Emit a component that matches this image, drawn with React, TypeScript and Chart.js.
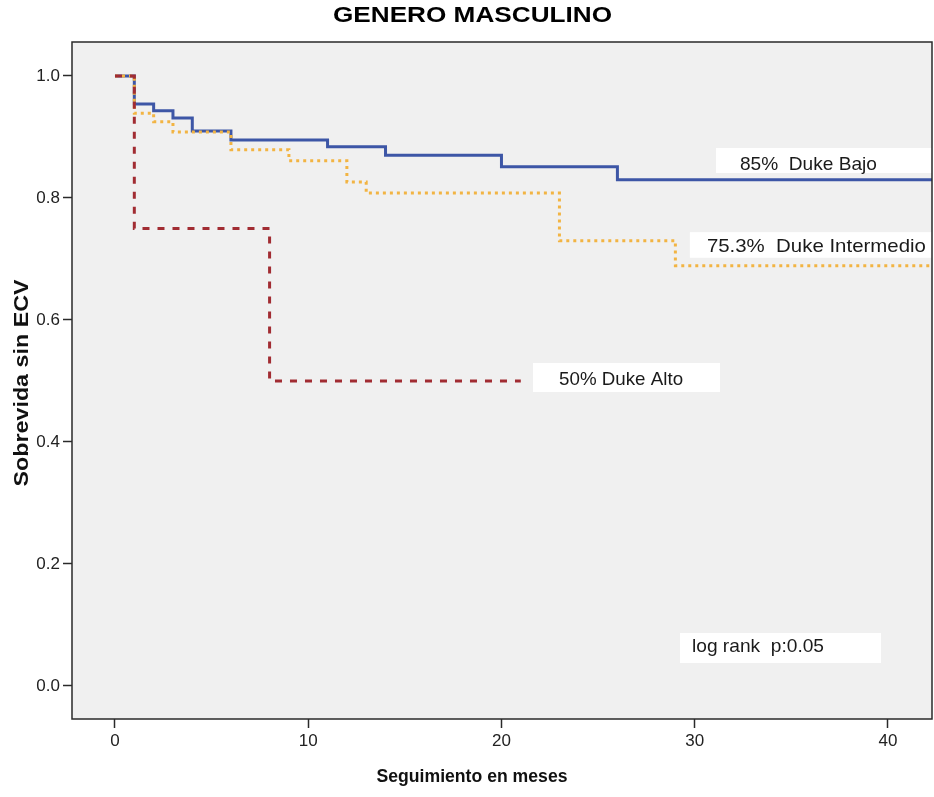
import React, { useEffect, useRef } from "react";
import { Chart, registerables } from "chart.js";

Chart.register(...registerables);

const TITLE = "GENERO MASCULINO";
const X_TITLE = "Seguimiento en meses";
const Y_TITLE = "Sobrevida sin ECV";

const X_TICKS = [0, 10, 20, 30, 40];
const Y_TICKS = [0, 0.2, 0.4, 0.6, 0.8, 1.0];

// Kaplan-Meier steps (month, survival)
const BAJO_MONTHS = [0, 1, 2, 3, 4, 6, 11, 14, 20, 26, 43];
const BAJO_SURV = [1, 0.954, 0.943, 0.931, 0.91, 0.895, 0.884, 0.87, 0.851, 0.83, 0.83];
const INTER_MONTHS = [0, 1, 2, 3, 6, 9, 12, 13, 23, 29, 43];
const INTER_SURV = [1, 0.939, 0.925, 0.908, 0.879, 0.861, 0.826, 0.808, 0.73, 0.689, 0.689];
const ALTO_MONTHS = [0, 1, 8, 21];
const ALTO_SURV = [1, 0.75, 0.5, 0.5];

const LABEL_TEXTS = ["85%  Duke Bajo", "75.3%  Duke Intermedio", "50% Duke Alto", "log rank  p:0.05"];

const toPoints = (xs: number[], ys: number[]) => xs.map((x, i) => ({ x, y: ys[i] }));

// annotation box layout (in data units): [x1, x2 (null = plot edge), yTop, yBottom, textX, textY, textWidthPx]
const BOX_LAYOUT: Array<[number, number | null, number, number, number, number, number]> = [
  [31.1, null, 0.882, 0.841, 32.34, 0.854, 137],
  [29.75, null, 0.744, 0.702, 30.63, 0.72, 219],
  [21.63, 31.31, 0.5295, 0.482, 22.98, 0.502, 124],
  [29.24, 39.64, 0.0869, 0.0377, 29.86, 0.064, 132],
];

function fitText(ctx: CanvasRenderingContext2D, text: string, x: number, y: number, width: number, align: "left" | "center") {
  const w = ctx.measureText(text).width;
  const sx = width / w;
  ctx.save();
  ctx.translate(x, y);
  ctx.scale(sx, 1);
  ctx.textAlign = align;
  ctx.fillText(text, 0, 0);
  ctx.restore();
}

const decor = {
  id: "decor",
  beforeDraw(chart: any) {
    const { ctx, chartArea: a } = chart;
    ctx.save();
    ctx.fillStyle = "#ffffff";
    ctx.fillRect(0, 0, chart.width, chart.height);
    ctx.fillStyle = "#f0f0f0";
    ctx.fillRect(a.left, a.top, a.right - a.left, a.bottom - a.top);
    ctx.restore();
  },
  afterDatasetsDraw(chart: any) {
    const { ctx, chartArea: a, scales } = chart;
    const xs = scales.x;
    const ys = scales.y;
    ctx.save();
    BOX_LAYOUT.forEach((b, i) => {
      const x1 = xs.getPixelForValue(b[0]);
      const x2 = b[1] === null ? a.right : xs.getPixelForValue(b[1]);
      const y1 = ys.getPixelForValue(b[2]);
      const y2 = ys.getPixelForValue(b[3]);
      ctx.fillStyle = "#ffffff";
      ctx.fillRect(x1, y1, x2 - x1, y2 - y1);
      ctx.fillStyle = "#1a1a1a";
      ctx.font = "19px 'Liberation Sans', Arial, sans-serif";
      ctx.textBaseline = "middle";
      fitText(ctx, LABEL_TEXTS[i], xs.getPixelForValue(b[4]), ys.getPixelForValue(b[5]), b[6], "left");
    });
    // frame
    ctx.strokeStyle = "#2a2a2a";
    ctx.lineWidth = 1.5;
    ctx.strokeRect(a.left, a.top, a.right - a.left, a.bottom - a.top);
    // titles
    ctx.fillStyle = "#000000";
    ctx.textBaseline = "middle";
    ctx.font = "bold 22px 'Liberation Sans', Arial, sans-serif";
    fitText(ctx, TITLE, 472.5, 16, 279, "center");
    ctx.fillStyle = "#111111";
    ctx.font = "bold 18px 'Liberation Sans', Arial, sans-serif";
    fitText(ctx, X_TITLE, 472, 777, 191, "center");
    ctx.save();
    ctx.translate(22, 383);
    ctx.rotate(-Math.PI / 2);
    ctx.font = "bold 21px 'Liberation Sans', Arial, sans-serif";
    fitText(ctx, Y_TITLE, 0, 0, 207, "center");
    ctx.restore();
    ctx.restore();
  },
};

export default function App() {
  const ref = useRef<HTMLCanvasElement | null>(null);
  useEffect(() => {
    if (!ref.current) return;
    const chart = new Chart(ref.current, {
      type: "line",
      data: {
        datasets: [
          {
            label: "Duke Alto",
            data: toPoints(ALTO_MONTHS, ALTO_SURV),
            borderColor: "#a12c32",
            borderWidth: 3,
            borderDash: [7, 8],
            stepped: true,
            pointRadius: 0,
            fill: false,
            order: 0,
          },
          {
            label: "Duke Intermedio",
            data: toPoints(INTER_MONTHS, INTER_SURV),
            borderColor: "#f2b443",
            borderWidth: 3,
            borderDash: [3, 4],
            stepped: true,
            pointRadius: 0,
            fill: false,
            order: 1,
          },
          {
            label: "Duke Bajo",
            data: toPoints(BAJO_MONTHS, BAJO_SURV),
            borderColor: "#3d56a6",
            borderWidth: 3,
            stepped: true,
            pointRadius: 0,
            fill: false,
            order: 2,
          },
        ],
      },
      options: {
        animation: false,
        responsive: false,
        devicePixelRatio: 1,
        layout: { padding: { top: 42, right: 2, left: 0, bottom: 0 } },
        plugins: { legend: { display: false }, tooltip: { enabled: false }, title: { display: false } },
        scales: {
          x: {
            type: "linear",
            min: -2.225,
            max: 42.28,
            afterBuildTicks: (s: any) => {
              s.ticks = X_TICKS.map((v) => ({ value: v }));
            },
            afterFit: (s: any) => {
              s.height = 78;
            },
            grid: { display: true, drawOnChartArea: false, drawTicks: true, tickLength: 9, tickColor: "#2a2a2a", tickWidth: 1.5 },
            border: { display: false },
            ticks: {
              color: "#222222",
              font: { family: "'Liberation Sans', Arial, sans-serif", size: 17 },
              padding: 3,
              maxRotation: 0,
              callback: (v: any) => String(v),
            },
          },
          y: {
            type: "linear",
            min: -0.0541,
            max: 1.0557,
            afterBuildTicks: (s: any) => {
              s.ticks = Y_TICKS.map((v) => ({ value: v }));
            },
            afterFit: (s: any) => {
              s.width = 72;
            },
            grid: { display: true, drawOnChartArea: false, drawTicks: true, tickLength: 9, tickColor: "#2a2a2a", tickWidth: 1.5 },
            border: { display: false },
            ticks: {
              color: "#222222",
              font: { family: "'Liberation Sans', Arial, sans-serif", size: 17 },
              padding: 3,
              callback: (v: any) => Number(v).toFixed(1),
            },
          },
        },
      },
      plugins: [decor],
    } as any);
    return () => chart.destroy();
  }, []);
  return (
    <div style={{ position: "absolute", left: 0, top: 0, width: 934, height: 797 }}>
      <canvas ref={ref} width={934} height={797} style={{ display: "block", width: 934, height: 797 }} />
    </div>
  );
}
